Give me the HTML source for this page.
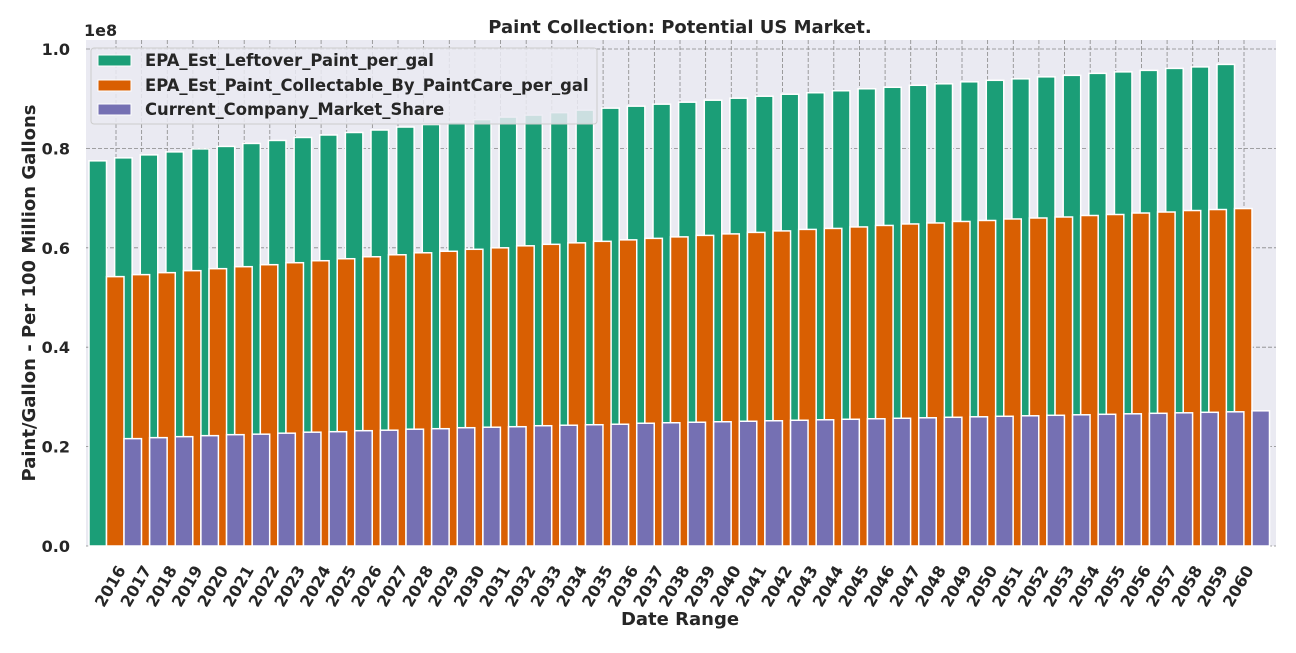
<!DOCTYPE html>
<html><head><meta charset="utf-8"><style>
body{margin:0;background:#fff;width:1296px;height:648px;overflow:hidden}
svg text{font-family:"DejaVu Sans","Liberation Sans",sans-serif;font-weight:bold;fill:#262626}
</style></head><body>
<svg id="chart" width="1296" height="648">
<text x="680" y="33" text-anchor="middle" font-size="18">Paint Collection: Potential US Market.</text>
<rect x="86" y="40" width="1190" height="506" fill="#eaeaf2"/>
<g id="grid"></g><g id="bars"></g><g id="axes"></g>
<text x="84" y="36" font-size="16">1e8</text>
<text x="680" y="625" text-anchor="middle" font-size="18">Date Range</text>
<text transform="translate(35,293) rotate(-90)" text-anchor="middle" font-size="18">Paint/Gallon - Per 100 Million Gallons</text>
<g>
<rect x="91" y="48" width="506" height="76" rx="3" fill="#eaeaf2" fill-opacity="0.85" stroke="#cccccc"/>
<rect x="98" y="55" width="33" height="11" fill="#1b9e77" stroke="#fff"/>
<text x="145" y="66" font-size="16.4">EPA_Est_Leftover_Paint_per_gal</text>
<rect x="98" y="80" width="33" height="11" fill="#d95f02" stroke="#fff"/>
<text x="145" y="91" font-size="16.4">EPA_Est_Paint_Collectable_By_PaintCare_per_gal</text>
<rect x="98" y="104" width="33" height="11" fill="#7570b3" stroke="#fff"/>
<text x="145" y="115" font-size="16.4">Current_Company_Market_Share</text>
</g>
</svg>
<script>
const years=[];for(let y=2016;y<=2060;y++)years.push(String(y));
const leftover=[0.775,0.781,0.787,0.793,0.799,0.804,0.810,0.816,0.822,0.827,0.832,0.837,0.843,0.848,0.853,0.858,0.863,0.867,0.872,0.877,0.881,0.885,0.889,0.893,0.897,0.901,0.905,0.909,0.912,0.916,0.920,0.923,0.927,0.930,0.934,0.937,0.940,0.944,0.947,0.951,0.954,0.957,0.961,0.964,0.969];
const collectable=[0.542,0.546,0.550,0.554,0.558,0.562,0.566,0.570,0.574,0.578,0.582,0.586,0.590,0.593,0.597,0.600,0.604,0.607,0.610,0.613,0.616,0.619,0.622,0.625,0.628,0.631,0.634,0.637,0.639,0.642,0.645,0.648,0.650,0.653,0.655,0.658,0.660,0.662,0.665,0.667,0.670,0.672,0.675,0.677,0.679];
const marketShare=[0.216,0.218,0.220,0.222,0.224,0.225,0.227,0.229,0.230,0.232,0.233,0.235,0.236,0.238,0.239,0.240,0.242,0.243,0.244,0.245,0.247,0.248,0.249,0.250,0.251,0.252,0.253,0.254,0.255,0.256,0.257,0.258,0.259,0.260,0.261,0.262,0.263,0.264,0.265,0.266,0.267,0.268,0.269,0.270,0.272];
const yTicks=[0,0.2,0.4,0.6,0.8,1.0];
const NS="http://www.w3.org/2000/svg";
const X0=116,STEP=(1244-116)/44;
function xs(i){return X0+i*STEP;}
function ys(v){return 546-v*497;}
function mk(tag,attrs,parent){const e=document.createElementNS(NS,tag);for(const k in attrs)e.setAttribute(k,attrs[k]);parent.appendChild(e);return e;}
const grid=document.getElementById('grid'),bars=document.getElementById('bars'),axes=document.getElementById('axes');
yTicks.forEach(t=>{
  const l=mk('line',{x1:86,x2:1276,y1:ys(t),y2:ys(t),stroke:'#888','stroke-dasharray':'4,2','stroke-width':0.8},grid);
  
  
  const tx=mk('text',{x:70,y:ys(t)+6,'text-anchor':'end','font-size':16},axes);
  tx.textContent=t.toFixed(1);
  
  
});
years.forEach((yr,i)=>{
  const l=mk('line',{x1:xs(i),x2:xs(i),y1:40,y2:546,stroke:'#888','stroke-dasharray':'4,2','stroke-width':0.8},grid);
  
  
  const tx=mk('text',{transform:`translate(${xs(i)-1},589) rotate(-60)`,'text-anchor':'middle','font-size':16},axes);
  tx.textContent=yr;
  
  
});
const series=[[leftover,'#1b9e77',-27,'bar-leftover'],[collectable,'#d95f02',-9.5,'bar-collectable'],[marketShare,'#7570b3',8,'bar-market-share']];
series.forEach(([vals,col,off,name])=>{
  vals.forEach((v,i)=>{
    const r=mk('rect',{x:xs(i)+off,y:ys(v),width:17.5,height:546-ys(v),fill:col,stroke:'#fff','stroke-width':1.5},bars);
    
    
  });
});
</script>
</body></html>
